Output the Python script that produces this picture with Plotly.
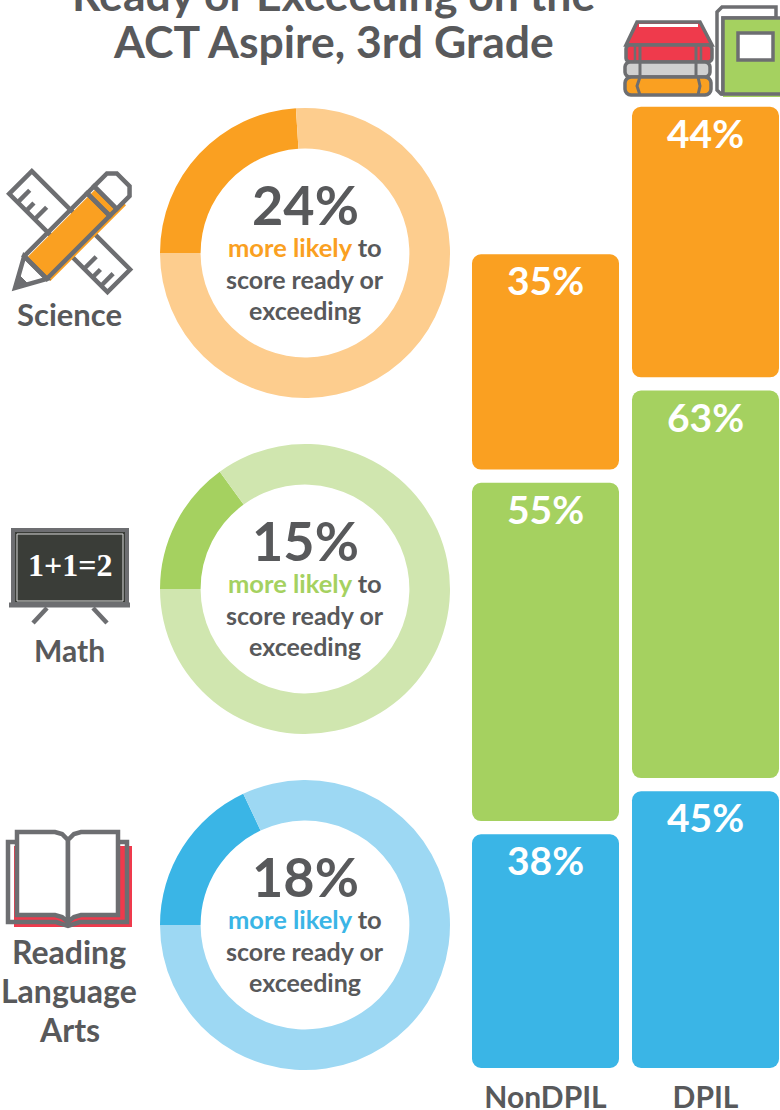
import math
import plotly.graph_objects as go

W, H = 780, 1110
subjects = ["Science", "Math", "Reading Language Arts"]
more_likely = [24, 15, 18]
groups = ["NonDPIL", "DPIL"]
non_dpil = [35, 55, 38]
dpil = [44, 63, 45]
dark = ["#FAA021", "#A5D160", "#3AB5E6"]
light = ["#FDCD8E", "#D0E6AF", "#9DD8F3"]
GREY = "#58595B"
LINE = "#6D6E71"
RED = "#EF3A4C"
CLEAR = "rgba(0,0,0,0)"
FONT = "Lato"

donut_cy = [253, 589, 925]
DONUT_R = 145
HOLE = 0.72
PX_PER_UNIT = 6.15
GAP = 2.15
BASE_Y = 1068


def fx(x):
    return x / W


def fy(y):
    return 1 - y / H


fig = go.Figure()

# donuts
for i, v in enumerate(more_likely):
    cy = donut_cy[i]
    fig.add_trace(go.Pie(
        values=[v, 100 - v], sort=False, direction="clockwise", rotation=270,
        hole=HOLE, textinfo="none", hoverinfo="skip", showlegend=False,
        marker=dict(colors=[dark[i], light[i]], line=dict(width=0)),
        domain=dict(x=[fx(305 - DONUT_R), fx(305 + DONUT_R)],
                    y=[fy(cy + DONUT_R), fy(cy - DONUT_R)]),
    ))

# bars, stacked bottom-up with a gap
annotations = []
for g, series in zip(groups, [non_dpil, dpil]):
    base = 0
    for i in [2, 1, 0]:
        val = series[i]
        fig.add_trace(go.Bar(
            x=[g], y=[val], base=[base],
            marker=dict(color=dark[i], cornerradius=9, line=dict(width=0)),
            showlegend=False, hoverinfo="skip", width=147 / 160,
        ))
        annotations.append(dict(
            x=g, y=base + val, xref="x", yref="y", text=f"{val}%", showarrow=False,
            yanchor="middle", yshift=-26,
            font=dict(family=FONT, size=39, color="white", weight=700),
        ))
        base += val + GAP

fig.update_layout(
    width=W, height=H, margin=dict(l=0, r=0, t=0, b=0, autoexpand=False),
    paper_bgcolor="white", plot_bgcolor="rgba(0,0,0,0)", barmode="overlay",
    xaxis=dict(domain=[465.5 / W, 1], range=[-0.5, 1.4656], type="category",
               categoryorder="array", categoryarray=groups, automargin=False,
               showgrid=False, zeroline=False, showline=False, ticks="", ticklabelstandoff=9,
               tickfont=dict(family=FONT, size=30, color=GREY, weight=700)),
    yaxis=dict(domain=[fy(BASE_Y), 1], range=[0, BASE_Y / PX_PER_UNIT], visible=False),
)


def txt(x, y, text, size, color=GREY, weight=700, family=FONT):
    annotations.append(dict(
        xref="paper", yref="paper", x=fx(x), y=fy(y - 2), text=text, showarrow=False,
        xanchor="center", yanchor="middle", align="center",
        font=dict(family=family, size=size, color=color, weight=weight),
    ))


txt(333, -5, "Ready or Exceeding on the", 44.5)
txt(333, 43, "ACT Aspire, 3rd Grade", 44.5)

txt(69, 316, "Science", 31)
txt(69, 652, "Math", 30)
txt(69, 953, "Reading", 32)
txt(69, 992, "Language", 32)
txt(69, 1031, "Arts", 32)

for i, v in enumerate(more_likely):
    cy = donut_cy[i]
    txt(305, cy - 47, f"{v}%", 54)
    txt(305, cy - 4, f'<span style="color:{dark[i]}">more likely</span> to', 25.5)
    txt(305, cy + 28, "score ready or", 25)
    txt(305, cy + 59, "exceeding", 25)

# icons
shapes = []


def path(points, close=True, fill=None, line=LINE, lw=4):
    d = "M" + " L".join(f"{fx(x):.5f},{fy(y):.5f}" for x, y in points)
    if close:
        d += " Z"
    shapes.append(dict(type="path", xref="paper", yref="paper", path=d,
                       fillcolor=fill if fill else CLEAR,
                       line=dict(color=line, width=lw)))


def rect(x0, y0, x1, y1, fill=None, line=LINE, lw=4):
    if line is None:
        lw = 0
        line = CLEAR
    path([(x0, y0), (x1, y0), (x1, y1), (x0, y1)], fill=fill, line=line, lw=lw)


def rnd(x0, y0, x1, y1, r, fill=None, line=LINE, lw=4):
    pts = []
    for cx, cy, a0 in [(x1 - r, y0 + r, -90), (x1 - r, y1 - r, 0), (x0 + r, y1 - r, 90), (x0 + r, y0 + r, 180)]:
        for k in range(5):
            a = math.radians(a0 + k * 22.5)
            pts.append((cx + r * math.cos(a), cy + r * math.sin(a)))
    path(pts, fill=fill, line=line, lw=lw)


# ruler (science)
def ruler(u, v):
    s = math.sqrt(0.5)
    return (20.5 + s * (u - v), 182.5 + s * (u + v))


ruler_len = 139
ruler_w = 32
path([ruler(0, -ruler_w / 2), ruler(ruler_len, -ruler_w / 2), ruler(ruler_len, ruler_w / 2), ruler(0, ruler_w / 2)],
     fill="white", lw=4.5)
for u, h in [(12, 17), (24, 11), (36, 17), (106, 17), (118, 11), (130, 17)]:
    path([ruler(u, ruler_w / 2), ruler(u, ruler_w / 2 - h)], close=False, lw=4.5)


# pencil (science)
def pen(u, v):
    s = math.sqrt(0.5)
    return (15 + s * (u + v), 288 + s * (-u + v))


path([pen(30, -13), pen(137, -13), pen(137, 20), pen(30, 20)], fill=dark[0], line=CLEAR, lw=0)
path([pen(0, 0), pen(29, -16), pen(29, 16)], fill="white", lw=4.5)
path([pen(2, 0), pen(12, -5), pen(12, 5)], fill=LINE, lw=1)
path([pen(29, -16), pen(118, -16), pen(118, 16), pen(29, 16)], lw=4.5)
path([pen(118, -16), pen(128, -16), pen(128, 16), pen(118, 16)], lw=4.5)
path([pen(128, -16), pen(146, -16), pen(153, -9), pen(153, 9), pen(146, 16), pen(128, 16)], fill="white", lw=4.5)

# chalkboard (math)
rect(13, 530, 127, 604, fill="#3A3D38")
rect(17, 534, 123, 601, line="#D9D9D9", lw=1)
rect(13, 530, 127, 604)
path([(9, 605), (130, 605)], close=False, lw=5)
path([(47, 608), (33, 623)], close=False, lw=4.5)
path([(93, 608), (107, 623)], close=False, lw=4.5)
txt(70, 567, "1+1=2", 32, color="white", family="Liberation Serif")

# open book (reading)
rect(14, 846, 132, 927, fill=RED, line=None)
path([(17, 842), (8, 842), (8, 922), (56, 922), (68, 926), (80, 922), (127, 922), (127, 842), (118, 842)],
     close=False, lw=4.5)
path([(17, 832), (55, 832), (62, 834), (68, 840), (68, 922), (62, 917), (55, 915), (17, 915)], fill="white", lw=4.5)
path([(118, 832), (81, 832), (74, 834), (68, 840), (68, 922), (74, 917), (81, 915), (118, 915)], fill="white", lw=4.5)

# book stack
path([(776, 18), (776, 7), (722, 7), (717, 12), (717, 90), (721, 94), (723, 94), (723, 18)], fill="white", lw=3.5)
path([(723, 18), (782, 18), (782, 97), (723, 97)], fill=dark[1], line=CLEAR, lw=0)
path([(782, 18), (723, 18), (723, 94), (782, 94)], close=False, lw=3.5)
rect(738, 33, 773, 60, fill="white", lw=3.5)
path([(637, 22), (700, 22), (712, 45), (626, 45)], fill=RED, lw=3.5)
rect(639, 24, 698, 27, fill="white", line=None)
rnd(626, 45, 712, 62, 4, fill=RED, lw=3.5)
rnd(625, 62, 710, 77, 5, fill="#D0D0D0", lw=3.5)
rnd(625, 77, 711, 95, 6, fill=dark[0], lw=3.5)
path([(635, 45), (635, 62)], close=False, lw=2.5)
path([(640, 45), (640, 77)], close=False, lw=3)
path([(696, 45), (696, 77)], close=False, lw=3)
path([(701, 45), (701, 62)], close=False, lw=2.5)
path([(640, 77), (637, 86), (640, 95)], close=False, lw=3)
path([(698, 77), (700, 86), (698, 95)], close=False, lw=3)

fig.update_layout(shapes=shapes, annotations=annotations)
fig.write_html("out.html", config=dict(displayModeBar=False),
               post_script="document.body.style.margin='0';document.documentElement.style.overflow='hidden';")
